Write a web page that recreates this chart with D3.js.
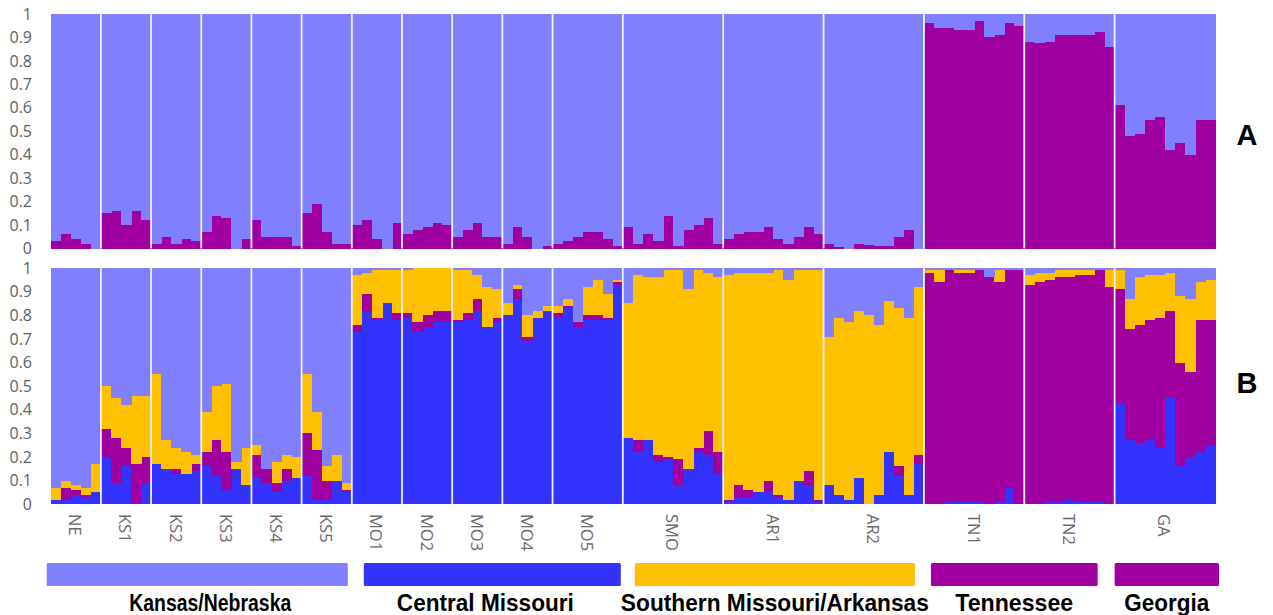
<!DOCTYPE html>
<html>
<head>
<meta charset="utf-8">
<script src="https://cdn.jsdelivr.net/npm/d3@7"></script>
<style>
  body { margin: 0; background: #fff; }
  svg { display: block; }
</style>
</head>
<body>
<svg id="chart" width="1273" height="615"></svg>
<script>
// ---- Data -------------------------------------------------------------
const populations = ["NE","KS1","KS2","KS3","KS4","KS5","MO1","MO2","MO3","MO4","MO5",
                     "SMO","AR1","AR2","TN1","TN2","GA"];
const sampleCounts = [5,5,5,5,5,5,5,5,5,5,7,10,10,10,10,9,10];

// K = 2: share of the purple cluster for every individual (rest is lavender)
const k2Purple = [
  .03,.06,.04,.02,.00,
  .15,.16,.10,.16,.12,
  .02,.05,.02,.04,.03,
  .07,.14,.13,.00,.04,
  .12,.05,.05,.05,.01,
  .15,.19,.07,.02,.02,
  .10,.12,.04,.00,.11,
  .06,.08,.09,.11,.10,
  .05,.08,.11,.05,.05,
  .02,.09,.05,.00,.01,
  .02,.03,.05,.07,.07,.04,.01,
  .09,.02,.06,.03,.14,.01,.08,.10,.13,.02,
  .04,.06,.07,.07,.09,.04,.02,.05,.09,.06,
  .02,.005,.00,.02,.015,.01,.01,.05,.08,.00,
  .96,.94,.94,.93,.93,.97,.90,.91,.96,.95,
  .88,.875,.88,.91,.91,.91,.91,.925,.86,
  .61,.48,.49,.55,.56,.42,.45,.40,.55,.55
];

// K = 4: blue, purple and yellow cluster shares (rest is lavender)
const k4Blue = [
  .02,.02,.04,.03,.05,
  .20,.09,.16,.00,.09,
  .17,.15,.13,.13,.14,
  .16,.12,.06,.15,.08,
  .11,.09,.05,.10,.11,
  .12,.02,.02,.10,.05,
  .73,.82,.78,.85,.78,
  .79,.73,.75,.77,.77,
  .77,.78,.82,.75,.77,
  .80,.87,.69,.79,.82,
  .79,.83,.75,.78,.78,.78,.93,
  .28,.22,.27,.18,.19,.08,.15,.22,.21,.13,
  .01,.03,.03,.05,.05,.03,.02,.10,.08,.01,
  .08,.04,.02,.11,.00,.04,.22,.12,.04,.17,
  .00,.00,.01,.01,.01,.01,.00,.01,.07,.00,
  .00,.00,.01,.01,.02,.01,.01,.01,.00,
  .43,.27,.26,.27,.24,.45,.16,.20,.22,.25
];
const k4Purple = [
  .00,.05,.02,.01,.00,
  .12,.19,.08,.17,.11,
  .00,.00,.02,.00,.03,
  .06,.15,.16,.00,.00,
  .10,.06,.04,.05,.00,
  .18,.21,.08,.00,.01,
  .03,.07,.01,.00,.03,
  .02,.04,.05,.05,.05,
  .01,.03,.05,.00,.02,
  .00,.04,.02,.00,.00,
  .02,.01,.02,.02,.02,.01,.01,
  .00,.05,.00,.03,.01,.11,.00,.02,.10,.09,
  .01,.05,.03,.00,.05,.01,.00,.00,.06,.01,
  .00,.00,.00,.00,.00,.00,.00,.04,.00,.04,
  .98,.94,.98,.97,.97,.98,.96,.93,.92,.99,
  .93,.94,.94,.95,.94,.96,.96,.98,.92,
  .48,.47,.50,.51,.55,.37,.44,.36,.56,.53
];
const k4Yellow = [
  .05,.03,.02,.03,.12,
  .18,.17,.18,.29,.26,
  .38,.12,.09,.09,.04,
  .17,.23,.29,.03,.16,
  .04,.00,.09,.06,.09,
  .25,.16,.06,.11,.03,
  .21,.09,.20,.14,.18,
  .18,.23,.20,.18,.18,
  .21,.18,.10,.17,.12,
  .05,.02,.09,.03,.02,
  .03,.03,.00,.12,.15,.10,.01,
  .57,.70,.69,.75,.79,.80,.76,.75,.67,.74,
  .95,.90,.92,.93,.88,.95,.93,.89,.85,.97,
  .63,.75,.75,.71,.80,.72,.64,.67,.75,.71,
  .01,.05,.00,.01,.01,.00,.00,.05,.00,.00,
  .04,.04,.03,.03,.03,.02,.02,.00,.07,
  .08,.13,.20,.19,.18,.16,.28,.31,.16,.17
];

const yTicks = [0,0.1,0.2,0.3,0.4,0.5,0.6,0.7,0.8,0.9,1];

const regionNames = ["Kansas/Nebraska","Central Missouri","Southern Missouri/Arkansas","Tennessee","Georgia"];
const regionFirstPop = [0, 6, 11, 14, 16];
const regionLastPop  = [5, 10, 13, 15, 16];
const regionCluster  = ["lavender","blue","yellow","purple","purple"];

// ---- Styles -----------------------------------------------------------
const colors = {
  lavender: "#8080ff",
  purple:   "#a0009f",
  blue:     "#3333ff",
  yellow:   "#ffc000"
};
const axisGray = "#5f5f5f";

// ---- Layout -----------------------------------------------------------
const plotLeft = 50.7, plotRight = 1215;
const panels = [
  { key: "A", top: 14,  bottom: 248.5, letterY: 135 },
  { key: "B", top: 268, bottom: 504.3, letterY: 383 }
];
// legend bar insets (left, right) relative to each region's population span
const regionInsets = [[-4, 4], [12, 2], [12, 9], [7, 17], [0, -4]];
const regionTextShift = [13, -7, 0, 0, 0];
const regionTextWidth = [162, 177, 308, 118, 85];

const svg = d3.select("#chart");

// ---- Individuals table ------------------------------------------------
const individuals = [];
const popStart = [];
let idx = 0;
populations.forEach((p, pi) => {
  popStart.push(idx);
  for (let j = 0; j < sampleCounts[pi]; j++) {
    individuals.push({
      id: idx, pop: p,
      k2: { purple: k2Purple[idx], lavender: 1 - k2Purple[idx] },
      k4: {
        blue: k4Blue[idx], purple: k4Purple[idx], yellow: k4Yellow[idx],
        lavender: Math.max(0, 1 - k4Blue[idx] - k4Purple[idx] - k4Yellow[idx])
      }
    });
    idx++;
  }
});
const N = individuals.length;

const x = d3.scaleBand().domain(d3.range(N)).range([plotLeft, plotRight]).padding(0);
const bw = x.bandwidth();

function drawPanel(panel, keys, accessor) {
  const y = d3.scaleLinear().domain([0, 1]).range([panel.bottom, panel.top]);
  const g = svg.append("g");

  const stack = d3.stack().keys(keys).value((d, k) => accessor(d)[k]);
  const series = stack(individuals);

  g.selectAll("g.layer").data(series).join("g")
    .attr("class", "layer")
    .attr("fill", s => colors[s.key])
    .selectAll("rect").data(s => s).join("rect")
      .attr("x", d => x(d.data.id))
      .attr("width", bw + 0.6)
      .attr("y", d => y(Math.min(1, d[1])))
      .attr("height", d => Math.max(0, y(d[0]) - y(Math.min(1, d[1]))))
      .attr("shape-rendering", "crispEdges");

  // population separators
  g.selectAll("line.sep").data(popStart.slice(1)).join("line")
    .attr("class", "sep")
    .attr("x1", d => x(d)).attr("x2", d => x(d))
    .attr("y1", panel.top).attr("y2", panel.bottom)
    .attr("stroke", "#f4f0f8").attr("stroke-width", 1.8);

  // y axis labels
  const axis = d3.axisLeft(y).tickValues(yTicks).tickFormat(d3.format("")).tickSize(0).tickPadding(0);
  const ag = svg.append("g").attr("transform", `translate(${32},0)`).call(axis);
  ag.select(".domain").remove();
  ag.selectAll("text")
    .attr("fill", axisGray)
    .attr("font-family", "'Open Sans', 'DejaVu Sans', sans-serif")
    .attr("font-size", 16)
    .attr("x", 0);

  // panel letter
  svg.append("text")
    .attr("x", 1247).attr("y", panel.letterY)
    .attr("text-anchor", "middle").attr("dominant-baseline", "central")
    .attr("font-family", "'Liberation Sans', Arial, sans-serif")
    .attr("font-weight", "bold").attr("font-size", 29)
    .attr("fill", "#000")
    .text(panel.key);
}

drawPanel(panels[0], ["purple", "lavender"], d => d.k2);
drawPanel(panels[1], ["blue", "purple", "yellow", "lavender"], d => d.k4);

// ---- Population labels (rotated) ---------------------------------------
const popCenters = populations.map((p, pi) => {
  const a = x(popStart[pi]);
  const b = x(popStart[pi] + sampleCounts[pi] - 1) + bw;
  return (a + b) / 2;
});
svg.append("g").selectAll("text").data(populations).join("text")
  .attr("transform", (d, i) => `translate(${popCenters[i]},${514}) rotate(90)`)
  .attr("dominant-baseline", "central")
  .attr("text-anchor", "start")
  .attr("font-family", "'Open Sans', 'DejaVu Sans', sans-serif")
  .attr("font-size", 16.5)
  .attr("fill", "#6a6a6a")
  .text(d => d);

// ---- Region legend ------------------------------------------------------
const regionSpan = regionNames.map((r, i) => {
  const f = regionFirstPop[i], l = regionLastPop[i];
  const a = x(popStart[f]) + regionInsets[i][0];
  const b = x(popStart[l] + sampleCounts[l] - 1) + bw - regionInsets[i][1];
  return [a, b];
});
const lg = svg.append("g");
lg.selectAll("rect").data(regionNames).join("rect")
  .attr("x", (d, i) => regionSpan[i][0])
  .attr("width", (d, i) => regionSpan[i][1] - regionSpan[i][0])
  .attr("y", 563).attr("height", 23)
  .attr("rx", 1.5)
  .attr("fill", (d, i) => colors[regionCluster[i]]);
lg.selectAll("text").data(regionNames).join("text")
  .attr("x", (d, i) => (regionSpan[i][0] + regionSpan[i][1]) / 2 + regionTextShift[i])
  .attr("y", 611)
  .attr("text-anchor", "middle")
  .attr("font-family", "'Liberation Sans Narrow', 'Arial Narrow', 'Liberation Sans', sans-serif")
  .attr("font-weight", "bold")
  .attr("font-size", 23)
  .attr("textLength", (d, i) => regionTextWidth[i])
  .attr("lengthAdjust", "spacingAndGlyphs")
  .attr("fill", "#000")
  .text(d => d);
</script>
</body>
</html>
